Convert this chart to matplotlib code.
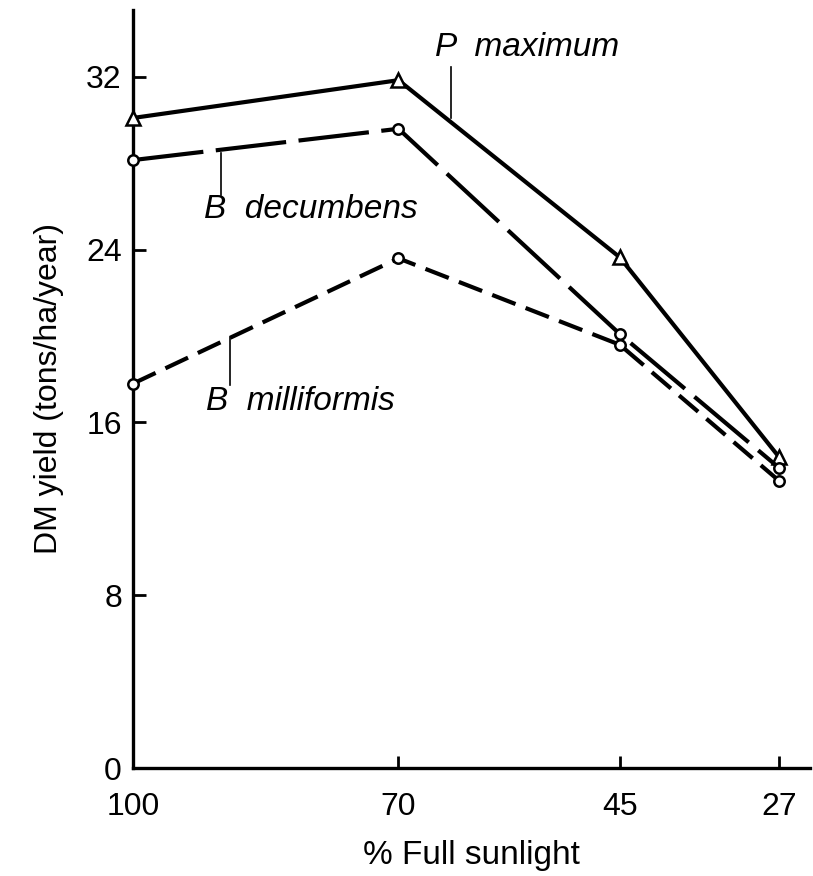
import matplotlib
matplotlib.use('agg')
from matplotlib import pyplot as plt

plt.rcParams['font.family'] = ['Liberation Sans', 'DejaVu Sans']

# % full sunlight and DM yield (tons/ha/year)
sunlight = [100, 70, 45, 27]
p_maximum = [30.1, 31.85, 23.65, 14.4]
b_decumbens = [28.15, 29.6, 20.1, 13.9]
b_milliformis = [17.8, 23.6, 19.6, 13.3]

y_ticks = [0, 8, 16, 24, 32]

fig = plt.figure(figsize=(8.13, 8.76), dpi=100)
ax = fig.add_axes([133 / 813, 1 - 768 / 876, 677 / 813, 758 / 876])

common = dict(color='black', lw=3, markerfacecolor='white',
              markeredgecolor='black', markeredgewidth=1.8, clip_on=False, zorder=3)
ax.plot(sunlight, p_maximum, marker='^', markersize=10, ls='-', **common)
ax.plot(sunlight, b_decumbens, marker='o', markersize=7.5, ls=(0, (17, 3)), **common)
ax.plot(sunlight, b_milliformis, marker='o', markersize=7.5, ls=(0, (6, 2.6)), **common)

ax.set_xlim(100, 23.5)
ax.set_ylim(0, 35.1)
ax.set_xticks(sunlight)
ax.set_yticks(y_ticks)
ax.tick_params(direction='in', length=9, width=2, labelsize=23)
ax.tick_params(axis='y', pad=8)
ax.tick_params(axis='x', pad=17)

for side in ('top', 'right'):
    ax.spines[side].set_visible(False)
for side in ('left', 'bottom'):
    ax.spines[side].set_linewidth(2.4)

ax.set_xlabel('% Full sunlight', fontsize=24, labelpad=13)
ax.set_ylabel('DM yield (tons/ha/year)', fontsize=23, labelpad=16)

# species labels with little leader lines down to the curves (pixel coords, y from top)
def label(text, x, y, lx, ly0, ly1):
    ax.text(x, 876 - y, text, fontsize=24, style='italic', ha='left', va='center',
            transform=None)
    ax.plot([lx, lx], [876 - ly0, 876 - ly1], color='black', lw=1.2, transform=None)

label('P  maximum', 435, 48, 451, 67, 118)
label('B  decumbens', 204, 210, 221, 153, 195)
label('B  milliformis', 206, 402, 230, 337, 385)

fig.savefig('out.png', dpi=100, facecolor='white')
